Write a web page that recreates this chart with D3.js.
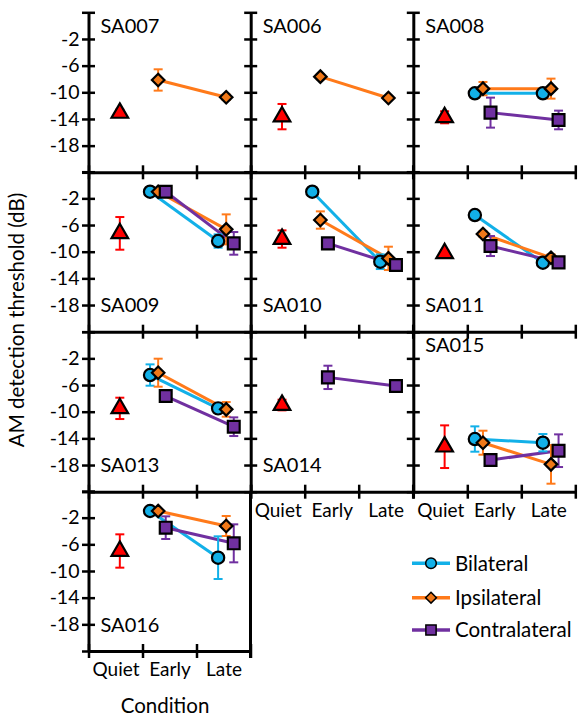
<!DOCTYPE html>
<html>
<head>
<meta charset="utf-8">
<script src="https://cdn.jsdelivr.net/npm/d3@7"></script>
<style>
  body { margin: 0; background: #fff; }
  svg { display: block; font-family: Lato, "Open Sans", sans-serif; }
</style>
</head>
<body>
<div id="chart"></div>
<script>
/* AM detection threshold per subject — small multiples, 3 columns */

const PANELS = ["SA007", "SA006", "SA008", "SA009", "SA010", "SA011", "SA013", "SA014", "SA015", "SA016"];
const LABEL_AT = ["top", "top", "top", "bottom", "bottom", "bottom", "bottom", "bottom", "top", "bottom"];
const CATEGORIES = ["Quiet", "Early", "Late"];
const Y_TICKS = [2, -2, -6, -10, -14, -18, -22];

// Quiet condition (single triangle per panel)
const QUIET = [-13.1, -13.65, -13.75, -7.25, -8.1, -10.25, -9.5, -9.0, -15.25, -7.0];
const QUIET_ERR = [0.5, 1.9, 0.9, 2.45, 1.3, 0.5, 1.6, 0.8, 3.2, 2.5];

// [Early, Late] per panel, null = no data
const BILATERAL = [null, null, [-10.15, -10.15], [-1.0, -8.4], [-1.0, -11.5], [-4.5, -11.65], [-4.5, -9.5], null, [-14.1, -14.65], [-1.0, -8.0]];
const BILATERAL_ERR = [null, null, [0.3, 0.3], [0.3, 1.0], [0.2, 1.1], [0.3, 0.4], [1.6, 0.5], null, [1.9, 1.3], [0.3, 3.2]];
const IPSILATERAL = [[-8.15, -10.75], [-7.65, -10.85], [-9.45, -9.45], [-1.0, -6.65], [-5.25, -11.0], [-7.35, -10.9], [-4.15, -9.65], null, [-14.65, -17.9], [-1.0, -3.25]];
const IPSILATERAL_ERR = [[1.6, 0.4], [0.4, 0.3], [1.0, 1.5], [0.3, 2.25], [1.3, 1.75], [0.4, 0.5], [2.1, 1.1], null, [1.8, 2.9], [0.3, 1.5]];
const CONTRALATERAL = [null, null, [-13.05, -14.15], [-1.0, -8.75], [-8.75, -12.0], [-9.15, -11.6], [-7.65, -12.25], [-4.85, -6.15], [-17.25, -15.85], [-3.5, -5.85]];
const CONTRALATERAL_ERR = [null, null, [2.25, 1.4], [0.3, 1.7], [0.3, 0.5], [1.5, 0.4], [0.3, 1.4], [1.75, 0.5], [0.3, 2.45], [1.7, 2.85]];

const SERIES = [
  { name: "Bilateral", values: BILATERAL, err: BILATERAL_ERR, color: "#12b0e8", fill: "#12b0e8", shape: "circle", xs: [1.14, 2.40] },
  { name: "Ipsilateral", values: IPSILATERAL, err: IPSILATERAL_ERR, color: "#ff7a1a", fill: "#f07818", shape: "diamond", xs: [1.29, 2.55] },
  { name: "Contralateral", values: CONTRALATERAL, err: CONTRALATERAL_ERR, color: "#7030a0", fill: "#7030a0", shape: "square", xs: [1.43, 2.69] },
];
const QUIET_X = 0.58;

const W = 579, H = 718;
const COL_X = [88.5, 250.7, 413.3];
const ROW_Y = [12.3, 171.7, 331.7, 491];
const PW = 162, PH = 160;

const svg = d3.select("#chart").append("svg").attr("width", W).attr("height", H);

const x = d3.scaleLinear().domain([0, 3]).range([0, PW]);
const y = d3.scaleLinear().domain([-22, 2]).range([PH, 0]);

function marker(shape, big) {
  const k = big ? 1 : 0.75;
  if (shape === "circle") return d3.symbol(d3.symbolCircle, 118 * k)();
  if (shape === "square") return d3.symbol(d3.symbolSquare, 140 * k)();
  if (shape === "diamond") return d3.symbol(d3.symbolDiamond2, 100 * k)();
  return d3.symbol(d3.symbolTriangle, 120 * k)();
}

function errBar(g, cx, v, e, color) {
  g.append("line").attr("x1", cx).attr("x2", cx).attr("y1", y(v + e)).attr("y2", y(v - e))
    .attr("stroke", color).attr("stroke-width", 2);
  [v + e, v - e].forEach(t => g.append("line")
    .attr("x1", cx - 4.5).attr("x2", cx + 4.5).attr("y1", y(t)).attr("y2", y(t))
    .attr("stroke", color).attr("stroke-width", 2));
}

PANELS.forEach((name, i) => {
  const col = i === 9 ? 0 : i % 3;
  const row = Math.floor(i / 3);
  const g = svg.append("g").attr("transform", `translate(${COL_X[col]},${ROW_Y[row]})`);
  const lastInCol = (i === 7 || i === 8 || i === 9);

  /* y axis, ticks crossing the line */
  const ya = g.append("g").call(d3.axisLeft(y).tickValues(Y_TICKS).tickSizeOuter(0).tickSizeInner(6)
    .tickFormat(d => (col === 0 && d < 0 && d > -22) ? d : ""));
  ya.select(".domain").attr("stroke", "#000").attr("stroke-width", 3);
  ya.selectAll(".tick line").attr("x1", -6.5).attr("x2", 6.5).attr("stroke", "#000").attr("stroke-width", 2.5);
  ya.selectAll(".tick text").attr("x", -9).style("font-size", "19.5px").style("font-family", "Lato, sans-serif").attr("fill", "#000");

  /* x axis */
  const xa = g.append("g").attr("transform", `translate(0,${PH})`)
    .call(d3.axisBottom(x).tickValues([0, 1, 2, 3]).tickSizeOuter(0).tickFormat(""));
  xa.select(".domain").attr("stroke", "#000").attr("stroke-width", 3);
  xa.selectAll(".tick line").attr("y1", -7).attr("y2", 7).attr("stroke", "#000").attr("stroke-width", 2.5);

  if (lastInCol) {
    const xl = g.append("g").attr("transform", `translate(0,${PH})`)
      .call(d3.axisBottom(x).tickValues([0.5, 1.5, 2.5]).tickSize(0).tickFormat((d, j) => CATEGORIES[j]));
    xl.select(".domain").remove();
    xl.selectAll("text").attr("y", 12).style("font-size", "19px").style("font-family", "Lato, sans-serif").attr("fill", "#000");
  }
  if (i === 9) {
    // right edge of the last panel
    g.append("line").attr("x1", PW).attr("x2", PW).attr("y1", 0).attr("y2", PH + 7)
      .attr("stroke", "#000").attr("stroke-width", 3);
  }

  /* panel label */
  g.append("text").attr("x", 12).attr("y", LABEL_AT[i] === "top" ? y(0) : y(-18))
    .attr("dy", "0.36em").style("font-size", "20px").attr("fill", "#000").text(name);

  /* quiet */
  errBar(g, x(QUIET_X), QUIET[i], QUIET_ERR[i], "#ff0000");
  g.append("path").attr("d", marker("triangle", true))
    .attr("transform", `translate(${x(QUIET_X)},${y(QUIET[i])})`)
    .attr("fill", "#ff0000").attr("stroke", "#000").attr("stroke-width", 2.2);

  /* series lines */
  SERIES.forEach(s => {
    const v = s.values[i];
    if (!v) return;
    g.append("path").datum(v.map((d, j) => [s.xs[j], d]))
      .attr("d", d3.line().x(d => x(d[0])).y(d => y(d[1])))
      .attr("fill", "none").attr("stroke", s.color).attr("stroke-width", 3);
  });
  /* error bars + markers */
  SERIES.forEach(s => {
    const v = s.values[i];
    if (!v) return;
    v.forEach((d, j) => errBar(g, x(s.xs[j]), d, s.err[i][j], s.color));
  });
  SERIES.forEach(s => {
    const v = s.values[i];
    if (!v) return;
    v.forEach((d, j) => g.append("path").attr("d", marker(s.shape, true))
      .attr("transform", `translate(${x(s.xs[j])},${y(d)})`)
      .attr("fill", s.fill).attr("stroke", "#000").attr("stroke-width", 2.2));
  });
});

/* axis titles */
svg.append("text").attr("transform", "translate(24,320) rotate(-90)")
  .attr("text-anchor", "middle").style("font-size", "20.5px").attr("fill", "#000")
  .text("AM detection threshold (dB)");
svg.append("text").attr("x", 165).attr("y", 713)
  .attr("text-anchor", "middle").style("font-size", "20.5px").attr("fill", "#000")
  .text("Condition");

/* legend */
const LEG_Y = [563.3, 597.7, 630];
SERIES.forEach((s, k) => {
  const lg = svg.append("g").attr("transform", `translate(0,${LEG_Y[k]})`);
  lg.append("line").attr("x1", 412).attr("x2", 450).attr("stroke", s.color).attr("stroke-width", 3.5);
  lg.append("path").attr("d", marker(s.shape, false)).attr("transform", "translate(431,0)")
    .attr("fill", s.fill).attr("stroke", "#000").attr("stroke-width", 1.5);
  lg.append("text").attr("x", 455).attr("dy", "0.36em").style("font-size", "20.5px").attr("fill", "#000").text(s.name);
});
</script>
</body>
</html>
